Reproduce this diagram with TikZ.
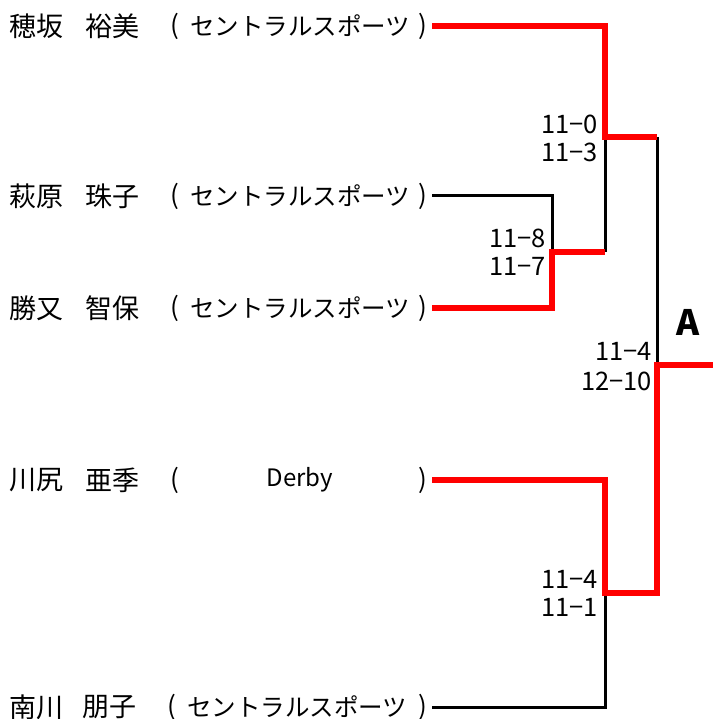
\documentclass[tikz,border=0pt]{standalone}
\usepackage{fontspec}
\setmainfont{Noto Sans CJK JP}
\begin{document}
\begin{tikzpicture}[x=1pt,y=-1pt,
  nm/.style={anchor=west,inner sep=0pt,font=\fontsize{27}{27}\selectfont},
  club/.style={anchor=west,inner sep=0pt,font=\fontsize{24.5}{24.5}\selectfont},
  par/.style={anchor=center,inner sep=0pt,font=\fontsize{26}{26}\selectfont},
  sc/.style={anchor=east,inner sep=0pt,font=\fontsize{25.5}{25.5}\selectfont},
  lose/.style={draw=black,line width=3pt},
  win/.style={draw=red,line width=6pt}]
\useasboundingbox (0,0) rectangle (713,719);
% row texts
\foreach \i/\y/\dx/\fa/\fb/\club in {1/26/0/穂坂/裕美/セントラルスポーツ,2/196/0/萩原/珠子/セントラルスポーツ,3/308/0/勝又/智保/セントラルスポーツ,5/707/-3/南川/朋子/セントラルスポーツ}{
  \node[nm] (fa\i) at (9,\y) {\fa};
  \node[nm] (fb\i) at (85+\dx,\y) {\fb};
  \node[par] (lp\i) at (175+\dx,\y) {(};
  \node[club] (cl\i) at (190+\dx,\y) {\club};
  \node[par] (rp\i) at (423,\y) {)};
}
\node[nm] (fa4) at (9,480) {川尻};
\node[nm] (fb4) at (85,480) {亜季};
\node[par] (lp4) at (175,480) {(};
\node[anchor=center,inner sep=0pt,font=\fontsize{24}{24}\selectfont] (cl4) at (300,480) {Derby};
\node[par] (rp4) at (423,480) {)};
% line start points
\foreach \i/\y in {1/26,2/196,3/308,4/480,5/707}{\coordinate (e\i) at (432,\y);}
\coordinate (m23) at (552,252);
\coordinate (s1) at (605,137);
\coordinate (s2) at (605,593);
\coordinate (f) at (657,365);
\coordinate (out) at (713,365);
% scores
\node[sc] (r1a) at (598,124) {11−0};
\node[sc] (r1b) at (598,152) {11−3};
\node[sc] (r2a) at (546,238) {11−8};
\node[sc] (r2b) at (546,266) {11−7};
\node[sc] (r3a) at (652,351) {11−4};
\node[sc] (r3b) at (652,381) {12−10};
\node[sc] (r4a) at (598,579) {11−4};
\node[sc] (r4b) at (598,607) {11−1};
\node[inner sep=0pt,font=\fontsize{35}{35}\selectfont\bfseries] (A) at (688,322) {A};
% losers
\draw[lose] (e2) -| (m23);
\draw[lose] (m23 -| s1) -- (s1);
\draw[lose] (s1 -| f) -- (f);
\draw[lose] (e5) -| (s2);
% winners
\draw[win] (e1) -| (s1) -- (s1 -| f);
\draw[win] (e3) -| (m23) -- (m23 -| s1);
\draw[win] (e4) -| (s2) -- (s2 -| f) -- (f) -- (out);
\end{tikzpicture}
\end{document}
